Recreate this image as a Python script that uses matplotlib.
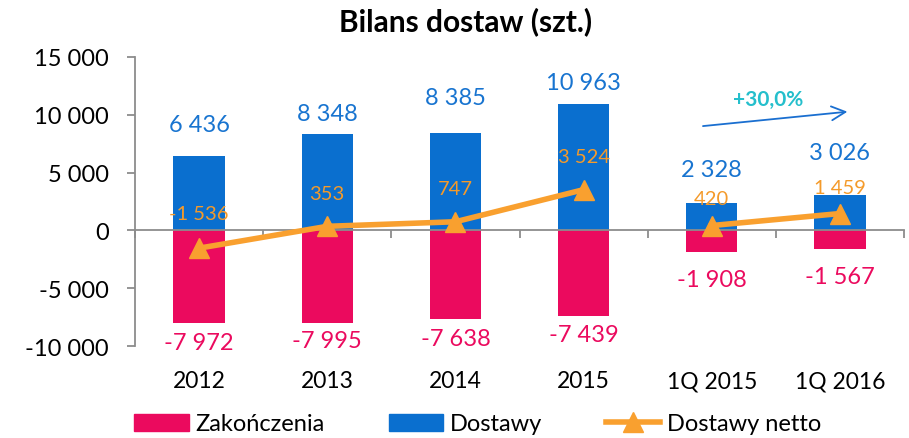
import matplotlib
matplotlib.use("Agg")
import matplotlib.pyplot as plt
from matplotlib.lines import Line2D
from matplotlib.patches import Patch
import matplotlib.transforms as mtransforms

plt.rcParams['font.family'] = ['Lato', 'DejaVu Sans']

categories = ["2012", "2013", "2014", "2015", "1Q 2015", "1Q 2016"]
zakonczenia = [-7972, -7995, -7638, -7439, -1908, -1567]
dostawy = [6436, 8348, 8385, 10963, 2328, 3026]
netto = [-1536, 353, 747, 3524, 420, 1459]
growth_label = "+30,0%"
y_ticks = [-10000, -5000, 0, 5000, 10000, 15000]

# label offsets in pixels (style)
off_dost = [31, 20, 36, 21, 34, 43]
off_zak = [20, 18, 20, 18, 27, 28]
off_net = [35, 33, 33, 33, 27, 26]

c_pink = '#EB0A5E'
c_blue = '#0A6FCF'
c_orange = '#F9A02F'
c_orange_txt = '#F49A2A'
c_teal = '#25BFCC'

def fmt(v):
    s = f"{abs(int(v)):,}".replace(",", " ")
    return ("-" if v < 0 else "") + s

fig = plt.figure(figsize=(9.09, 4.39), dpi=100)
ax = fig.add_axes([135/909, 1-347/439, (904-135)/909, (347-58)/439])

x = list(range(len(categories)))
ax.bar(x, zakonczenia, width=0.4, color=c_pink, zorder=2, label="Zakończenia")
ax.bar(x, dostawy, width=0.4, color=c_blue, zorder=2, label="Dostawy")
# annual and quarterly series drawn as separate segments
ax.plot(x[:4], netto[:4], color=c_orange, lw=4, marker='^', ms=15, zorder=4)
ax.plot(x[4:], netto[4:], color=c_orange, lw=4, marker='^', ms=15, zorder=4)

ax.set_xlim(-0.5, len(categories) - 0.5)
ax.set_ylim(-10000, 15000)
ax.set_yticks(y_ticks)
ax.set_yticklabels([fmt(v) for v in y_ticks], fontsize=17)
ax.tick_params(axis='y', length=6, width=1.3, color='#8C8C8C', pad=13)

ax.spines['top'].set_visible(False)
ax.spines['right'].set_visible(False)
ax.spines['left'].set_color('#8C8C8C')
ax.spines['left'].set_linewidth(1.3)
ax.spines['bottom'].set_position(('data', 0))
ax.spines['bottom'].set_color('#8C8C8C')
ax.spines['bottom'].set_linewidth(1.3)
ax.spines['bottom'].set_zorder(3)
ax.set_xticks([i - 0.5 for i in range(len(categories) + 1)])
ax.set_xticklabels([])
ax.tick_params(axis='x', length=6, width=1.3, color='#8C8C8C', direction='out')

trans = mtransforms.blended_transform_factory(ax.transData, ax.transAxes)
for i, c in enumerate(categories):
    ax.text(i, -0.121, c, transform=trans, ha='center', va='center', fontsize=16.5)

for i in x:
    ax.annotate(fmt(dostawy[i]), (i, dostawy[i]), xytext=(0, off_dost[i] * 0.72),
                textcoords='offset points', ha='center', va='center', fontsize=17, color='#1874D0')
    ax.annotate(fmt(zakonczenia[i]), (i, zakonczenia[i]), xytext=(0, -off_zak[i] * 0.72),
                textcoords='offset points', ha='center', va='center', fontsize=17, color=c_pink)
    ax.annotate(fmt(netto[i]), (i, netto[i]), xytext=(0, off_net[i] * 0.72),
                textcoords='offset points', ha='center', va='center', fontsize=14.5, color=c_orange_txt,
                zorder=5)

ax.annotate("", xy=(5.08, 10290), xytext=(3.91, 9000),
            arrowprops=dict(arrowstyle='->', color='#1A6FD0', lw=1.3, mutation_scale=25))
ax.text(4.44, 11400, growth_label, ha='center', va='center', fontsize=15,
        fontweight='bold', color=c_teal)

fig.text(466/909, 1-22/439, "Bilans dostaw (szt.)", ha='center', va='center',
         fontsize=21.5, fontweight='bold')

handles = [Patch(color=c_pink, label="Zakończenia"),
           Patch(color=c_blue, label="Dostawy"),
           Line2D([0], [0], color=c_orange, lw=4, marker='^', ms=15, label="Dostawy netto")]
fig.legend(handles=handles, loc='center', bbox_to_anchor=(478/909, 1-425/439), ncol=3,
           frameon=False, fontsize=17, handlelength=2.3, handleheight=0.7,
           handletextpad=0.3, columnspacing=2.7, borderpad=0)

fig.savefig("out.png", dpi=100)
